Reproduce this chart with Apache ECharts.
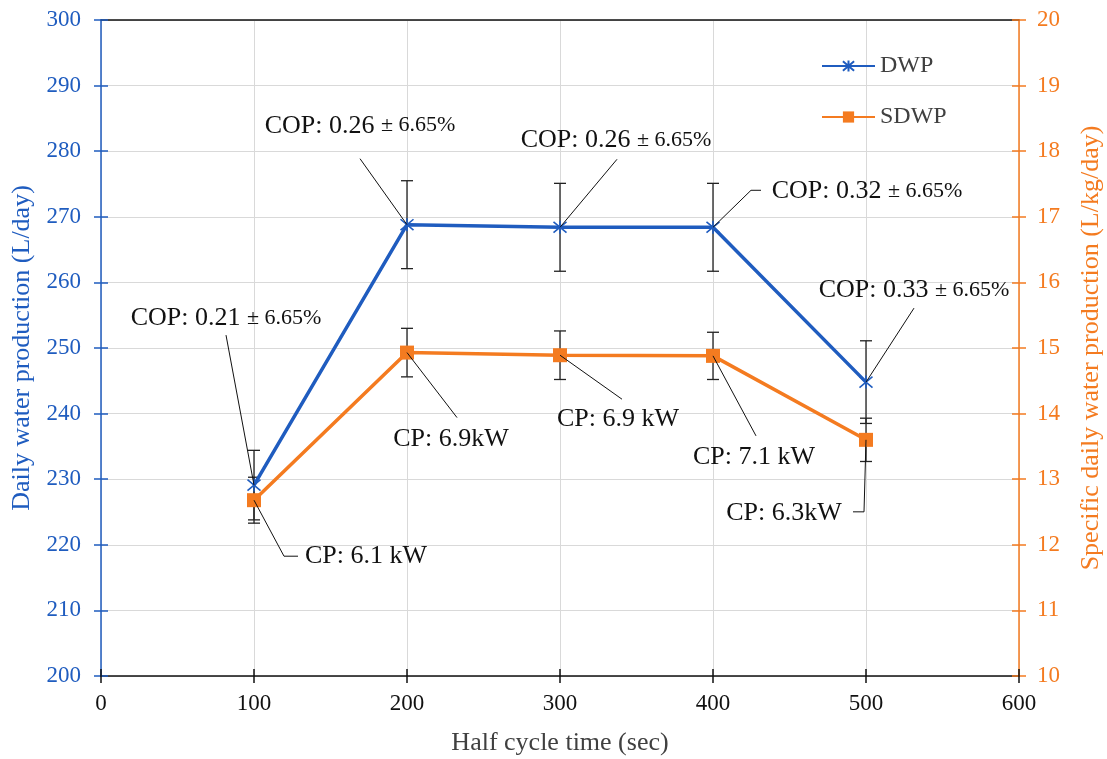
<!DOCTYPE html>
<html>
<head>
<meta charset="utf-8">
<script src="https://cdn.jsdelivr.net/npm/echarts@6/dist/echarts.min.js"></script>
<style>
  html, body { margin: 0; padding: 0; background: #ffffff; overflow: hidden; }
  #chart { width: 1107px; height: 759px; }
</style>
</head>
<body>
<div id="chart"></div>
<script>
// Half cycle time (sec) on the x axis
const halfCycle = [100, 200, 300, 400, 500];

// Daily water production (L/day) and its error
const dwp = [229.1, 268.8, 268.4, 268.4, 244.8];
const dwpErr = [5.3, 6.7, 6.7, 6.7, 6.3];

// Specific daily water production (L/kg/day) and its error
const sdwp = [12.68, 14.93, 14.89, 14.88, 13.60];
const sdwpErr = [0.35, 0.37, 0.37, 0.36, 0.33];

// Point annotations
const copValues = ['0.21', '0.26', '0.26', '0.32', '0.33'];
const copUncertainty = '± 6.65%';
const cpLabels = ['CP: 6.1 kW', 'CP: 6.9kW', 'CP: 6.9 kW', 'CP: 7.1 kW', 'CP: 6.3kW'];

// Axis ranges [min, max, interval]
const xRange = [0, 600, 100];
const dwpRange = [200, 300, 10];
const sdwpRange = [10, 20, 1];

const BLUE = '#1f5cbf';
const ORANGE = '#f47b20';
const GRID = '#d9d9d9';
const FONT = 'Liberation Serif';

// Leader line offsets (px from the point) and label centre offsets
const copLayout = [
  { path: [[-28, -150]], text: [-28, -167] },
  { path: [[-47, -66]], text: [-47, -99] },
  { path: [[57, -68]], text: [56, -87] },
  { path: [[38, -37], [48, -37]], text: [154, -36] },
  { path: [[48, -74]], text: [48, -92] }
];
const cpLayout = [
  { path: [[30, 56], [44, 56]], text: [112, 56] },
  { path: [[50, 65]], text: [44, 87] },
  { path: [[62, 44]], text: [58, 64] },
  { path: [[43, 80]], text: [41, 101] },
  { path: [[-2, 72], [-13, 72]], text: [-82, 73] }
];

function errorBarSeries(name, ys, errs, yAxisIndex) {
  return {
    type: 'custom',
    name: name,
    yAxisIndex: yAxisIndex,
    silent: true,
    z: 1,
    data: halfCycle.map((x, i) => [x, ys[i] - errs[i], ys[i] + errs[i]]),
    encode: { x: 0, y: [1, 2] },
    renderItem: function (params, api) {
      const lo = api.coord([api.value(0), api.value(1)]);
      const hi = api.coord([api.value(0), api.value(2)]);
      const w = 6;
      const st = { stroke: '#222', lineWidth: 1.3 };
      return {
        type: 'group',
        children: [
          { type: 'line', shape: { x1: lo[0], y1: lo[1], x2: hi[0], y2: hi[1] }, style: st },
          { type: 'line', shape: { x1: lo[0] - w, y1: lo[1], x2: lo[0] + w, y2: lo[1] }, style: st },
          { type: 'line', shape: { x1: hi[0] - w, y1: hi[1], x2: hi[0] + w, y2: hi[1] }, style: st }
        ]
      };
    }
  };
}

function calloutSeries(name, ys, yAxisIndex, layout, texts) {
  return {
    type: 'custom',
    name: name,
    yAxisIndex: yAxisIndex,
    silent: true,
    z: 20,
    data: halfCycle.map((x, i) => [x, ys[i]]),
    encode: { x: 0, y: 1 },
    renderItem: function (params, api) {
      const i = params.dataIndex;
      const p = api.coord([api.value(0), api.value(1)]);
      const L = layout[i];
      const pts = [p].concat(L.path.map(d => [p[0] + d[0], p[1] + d[1]]));
      return {
        type: 'group',
        children: [
          { type: 'polyline', shape: { points: pts }, style: { stroke: '#111', lineWidth: 1, fill: null } },
          {
            type: 'text',
            x: p[0] + L.text[0],
            y: p[1] + L.text[1],
            style: {
              text: texts[i],
              align: 'center',
              verticalAlign: 'middle',
              fontFamily: FONT,
              fontSize: 26,
              fill: '#111',
              rich: {
                m: { fontFamily: FONT, fontSize: 26, fill: '#111' },
                s: { fontFamily: FONT, fontSize: 22, fill: '#111' }
              }
            }
          }
        ]
      };
    }
  };
}

const copTexts = copValues.map(v => '{m|COP: ' + v + ' }{s|' + copUncertainty + '}');

const chart = echarts.init(document.getElementById('chart'), null, { renderer: 'canvas' });

// Cross-style ticks: each axis is paired with a tick-only twin drawn inside
function xAxisCfg(extra) {
  return Object.assign({
    type: 'value', min: xRange[0], max: xRange[1], interval: xRange[2],
    axisLabel: { show: false },
    splitLine: { show: false }
  }, extra);
}
function yAxisCfg(range, extra) {
  return Object.assign({
    type: 'value', min: range[0], max: range[1], interval: range[2],
    axisLabel: { show: false },
    splitLine: { show: false }
  }, extra);
}

const option = {
  backgroundColor: '#ffffff',
  animation: false,
  textStyle: { fontFamily: FONT },
  grid: { left: 101, right: 88, top: 20, bottom: 83, containLabel: false, outerBoundsMode: 'none' },
  legend: {
    data: ['DWP', 'SDWP'],
    orient: 'vertical',
    left: 821,
    top: 54,
    padding: 0,
    itemWidth: 53,
    itemHeight: 14,
    itemGap: 27,
    itemTextGap: 5,
    textStyle: { fontFamily: FONT, fontSize: 24, color: '#404040', lineHeight: 24 },
    backgroundColor: 'transparent'
  },
  xAxis: [
    xAxisCfg({
      position: 'bottom',
      axisLine: { show: true, onZero: false, lineStyle: { color: '#111', width: 1.5 } },
      axisTick: { show: true, length: 7, lineStyle: { color: '#111', width: 1.5 } },
      axisLabel: { show: true, fontFamily: FONT, fontSize: 23, color: '#111', margin: 16 },
      splitLine: { show: true, lineStyle: { color: GRID, width: 1 } },
      name: 'Half cycle time (sec)',
      nameLocation: 'middle',
      nameGap: 54,
      nameTextStyle: { fontFamily: FONT, fontSize: 26, color: '#404040' }
    }),
    xAxisCfg({
      position: 'bottom',
      axisLine: { show: false, onZero: false },
      axisTick: { show: true, inside: true, length: 7, lineStyle: { color: '#111', width: 1.5 } }
    }),
    xAxisCfg({
      position: 'top',
      axisLine: { show: true, onZero: false, lineStyle: { color: '#111', width: 1.5 } },
      axisTick: { show: false }
    })
  ],
  yAxis: [
    yAxisCfg(dwpRange, {
      position: 'left',
      axisLine: { show: true, onZero: false, lineStyle: { color: BLUE, width: 1.5 } },
      axisTick: { show: true, length: 7, lineStyle: { color: BLUE, width: 1.5 } },
      axisLabel: { show: true, fontFamily: FONT, fontSize: 23, color: BLUE, margin: 20 },
      splitLine: { show: true, lineStyle: { color: GRID, width: 1 } },
      name: 'Daily water production (L/day)',
      nameLocation: 'middle',
      nameGap: 66,
      nameTextStyle: { fontFamily: FONT, fontSize: 26, color: BLUE }
    }),
    yAxisCfg(sdwpRange, {
      position: 'right',
      axisLine: { show: true, onZero: false, lineStyle: { color: ORANGE, width: 1.5 } },
      axisTick: { show: true, length: 7, lineStyle: { color: ORANGE, width: 1.5 } },
      axisLabel: { show: true, fontFamily: FONT, fontSize: 23, color: ORANGE, margin: 18 },
      name: 'Specific daily water production (L/kg/day)',
      nameLocation: 'middle',
      nameGap: 59,
      nameTextStyle: { fontFamily: FONT, fontSize: 26, color: ORANGE }
    }),
    yAxisCfg(dwpRange, {
      position: 'left',
      axisLine: { show: false, onZero: false },
      axisTick: { show: true, inside: true, length: 7, lineStyle: { color: BLUE, width: 1.5 } }
    }),
    yAxisCfg(sdwpRange, {
      position: 'right',
      axisLine: { show: false, onZero: false },
      axisTick: { show: true, inside: true, length: 7, lineStyle: { color: ORANGE, width: 1.5 } }
    })
  ],
  series: [
    errorBarSeries('DWP error', dwp, dwpErr, 0),
    errorBarSeries('SDWP error', sdwp, sdwpErr, 1),
    {
      type: 'line',
      name: 'DWP',
      yAxisIndex: 0,
      z: 5,
      data: halfCycle.map((x, i) => [x, dwp[i]]),
      symbol: 'path://M0,0L10,10M10,0L0,10M5,-1L5,11',
      symbolSize: 13,
      showAllSymbol: true,
      lineStyle: { color: BLUE, width: 3.5 },
      itemStyle: { color: BLUE, borderColor: BLUE, borderWidth: 1.6 }
    },
    {
      type: 'line',
      name: 'SDWP',
      yAxisIndex: 1,
      z: 6,
      data: halfCycle.map((x, i) => [x, sdwp[i]]),
      symbol: 'rect',
      symbolSize: 14,
      showAllSymbol: true,
      lineStyle: { color: ORANGE, width: 3.5 },
      itemStyle: { color: ORANGE, borderColor: ORANGE, borderWidth: 0 }
    },
    calloutSeries('COP labels', dwp, 0, copLayout, copTexts),
    calloutSeries('CP labels', sdwp, 1, cpLayout, cpLabels)
  ]
};

chart.setOption(option);
</script>
</body>
</html>
